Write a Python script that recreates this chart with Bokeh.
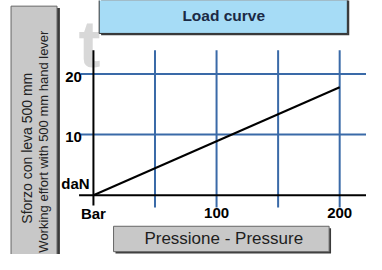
from bokeh.plotting import figure
from bokeh.models import Range1d
from bokeh.core.properties import value
from bokeh.embed import file_html
from bokeh.resources import INLINE
import math

# ---- data ----
pressure = [0, 200]          # Bar
force = [0, 17.8]            # daN
x_grid_ticks = [50, 100, 150, 200]
y_grid_ticks = [10, 20]
x_tick_values = [100, 200]
x_tick_labels = ["100", "200"]
y_tick_values = [10, 20]
y_tick_labels = ["10", "20"]
x_unit = "Bar"
y_unit = "daN"
title_text = "Load curve"
y_title_lines = ["Sforzo con leva 500 mm", "Working effort with 500 mm hand lever"]
x_title = "Pressione - Pressure"

# ---- layout helpers (reference pixel -> data) ----
X0, XS = 97.0, 1.285   # x=0 at px 97, px per unit
Y0, YS = 207.0, 6.45   # y=0 at px 207, px per unit
def X(px):
    return (px - X0) / XS
def Y(py):
    return (Y0 - py) / YS

FONT = value("Liberation Sans")

p = figure(width=366, height=254,
           x_range=Range1d(X(0), X(382)), y_range=Range1d(Y(270), Y(0)),
           x_axis_location=None, y_axis_location=None,
           toolbar_location=None, output_backend="svg", min_border=0)
p.outline_line_color = None
p.grid.visible = False
p.background_fill_color = "white"
p.border_fill_color = "white"

# watermark
p.text(x=[X(93)], y=[Y(46)], text=["t"], text_font=FONT, text_font_size="66px",
       text_font_style="bold", text_color="#d8d8d8", text_align="center", text_baseline="middle")

# grid lines
p.segment(x0=x_grid_ticks, x1=x_grid_ticks, y0=[Y(53)] * len(x_grid_ticks),
          y1=[Y(220)] * len(x_grid_ticks), line_color="#3a6aa8", line_width=2)
p.segment(x0=[X(84)] * len(y_grid_ticks), x1=[X(382)] * len(y_grid_ticks),
          y0=y_grid_ticks, y1=y_grid_ticks, line_color="#3a6aa8", line_width=2)

# axes lines
p.segment(x0=[X(82)], x1=[X(382)], y0=[0], y1=[0], line_color="black", line_width=2)
p.segment(x0=[0], x1=[0], y0=[Y(53)], y1=[Y(218)], line_color="black", line_width=2)

# data line
p.line(pressure, force, line_color="black", line_width=2)

# tick labels
p.text(x=x_tick_values, y=[Y(226)] * len(x_tick_values), text=x_tick_labels,
       text_font=FONT, text_font_size="15px", text_font_style="bold",
       text_align="center", text_baseline="middle", text_color="black")
p.text(x=[0], y=[Y(226)], text=[x_unit], text_font=FONT, text_font_size="15px",
       text_font_style="bold", text_align="center", text_baseline="middle", text_color="black")
p.text(x=[X(85)] * len(y_tick_values), y=[v - 3 / YS for v in y_tick_values], text=y_tick_labels,
       text_font=FONT, text_font_size="15px", text_font_style="bold",
       text_align="right", text_baseline="middle", text_color="black")
p.text(x=[X(93)], y=[Y(195)], text=[y_unit], text_font=FONT, text_font_size="15px",
       text_font_style="bold", text_align="right", text_baseline="middle", text_color="black")

# title box
p.quad(left=[X(105)], right=[X(364)], top=[Y(-3)], bottom=[Y(37)], fill_color="#3a3a3a", line_color=None)
p.quad(left=[X(103)], right=[X(362)], top=[Y(-5)], bottom=[Y(35)], fill_color="#a6dcf6",
       line_color="#333333", line_width=1)
p.text(x=[X(233)], y=[Y(16)], text=[title_text], text_font=FONT, text_font_size="15.5px",
       text_font_style="bold", text_align="center", text_baseline="middle", text_color="#1b2a45")

# left (y) title box
p.quad(left=[X(13)], right=[X(62)], top=[Y(8)], bottom=[Y(280)], fill_color="#3a3a3a", line_color=None)
p.quad(left=[X(11)], right=[X(59)], top=[Y(6)], bottom=[Y(278)], fill_color="#c8c8c8",
       line_color="#666666", line_width=1)
p.text(x=[X(28)], y=[Y(157)], text=[y_title_lines[0]], angle=math.pi / 2,
       text_font=FONT, text_font_size="14px", text_align="center", text_baseline="middle",
       text_color="#222222")
p.text(x=[X(45)], y=[Y(150)], text=[y_title_lines[1]], angle=math.pi / 2,
       text_font=FONT, text_font_size="13px", text_align="center", text_baseline="middle",
       text_color="#222222")

# bottom (x) title box
p.quad(left=[X(120)], right=[X(345)], top=[Y(242)], bottom=[Y(269)], fill_color="#3a3a3a", line_color=None)
p.quad(left=[X(118)], right=[X(343)], top=[Y(240)], bottom=[Y(267)], fill_color="#c8c8c8",
       line_color="#666666", line_width=1)
p.text(x=[X(233)], y=[Y(253)], text=[x_title], text_font=FONT, text_font_size="17px",
       text_align="center", text_baseline="middle", text_color="#1e1e1e")

open("out.html", "w").write(file_html(p, INLINE))
